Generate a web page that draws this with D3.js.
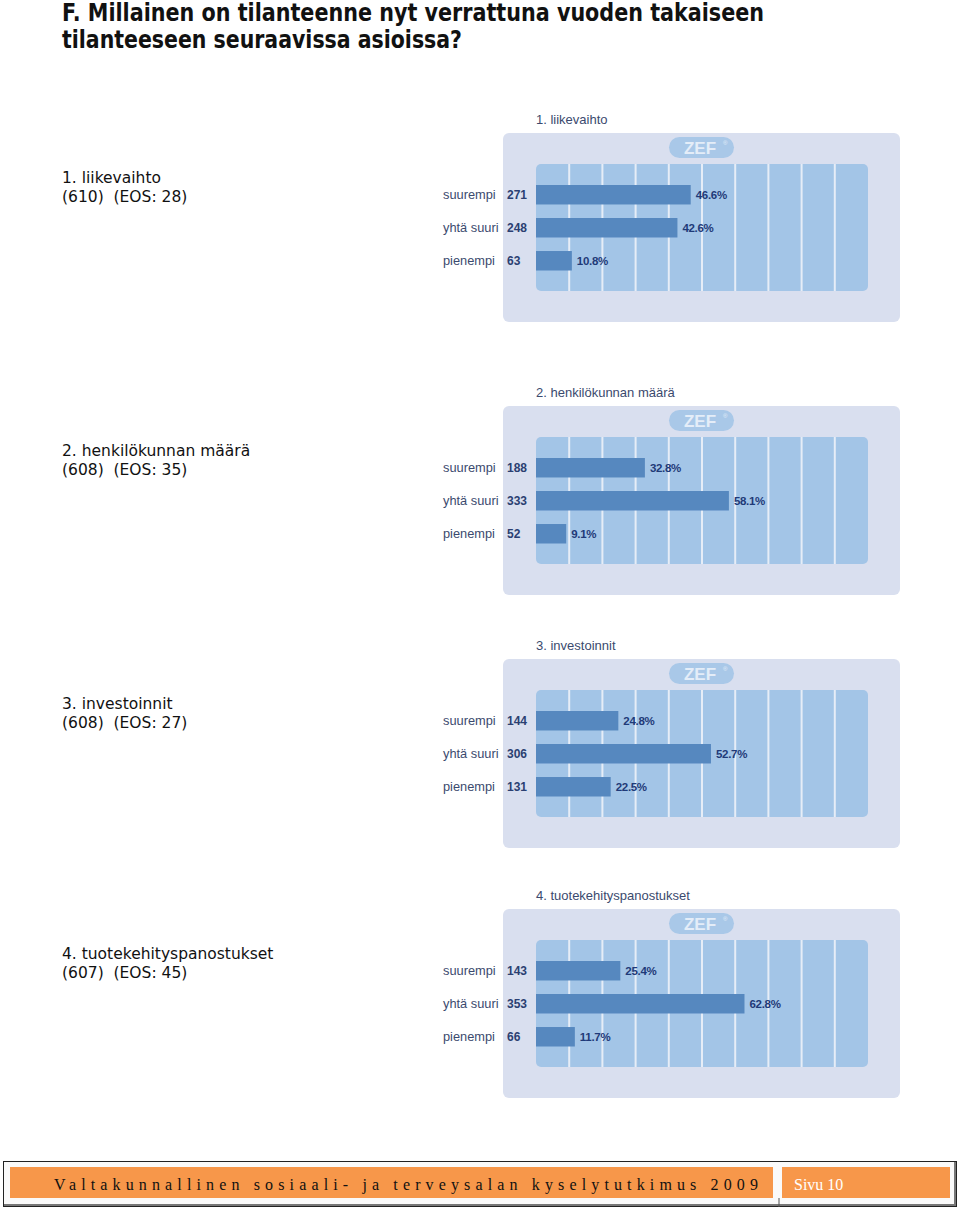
<!DOCTYPE html>
<html><head><meta charset="utf-8">
<script src="https://cdn.jsdelivr.net/npm/d3@7"></script>
<style>body{margin:0;background:#fff;}svg{display:block;}</style>
</head><body>
<script>
const titleLines = ["F. Millainen on tilanteenne nyt verrattuna vuoden takaiseen", "tilanteeseen seuraavissa asioissa?"];
const categories = ["suurempi", "yhtä suuri", "pienempi"];
const panelTitles = ["1. liikevaihto", "2. henkilökunnan määrä", "3. investoinnit", "4. tuotekehityspanostukset"];
const panelN = [610, 608, 608, 607];
const panelEOS = [28, 35, 27, 45];
const counts = [[271, 248, 63], [188, 333, 52], [144, 306, 131], [143, 353, 66]];
const percents = [[46.6, 42.6, 10.8], [32.8, 58.1, 9.1], [24.8, 52.7, 22.5], [25.4, 62.8, 11.7]];
const gridTicks = [10, 20, 30, 40, 50, 60, 70, 80, 90];
const footerText = "Valtakunnallinen sosiaali- ja terveysalan kyselytutkimus 2009";
const pageText = "Sivu 10";

const W = 960, H = 1210;
const svg = d3.select("body").append("svg").attr("width", W).attr("height", H);

// Title
titleLines.forEach((t, i) => {
  svg.append("text").attr("x", 62).attr("y", [21, 48][i])
    .attr("font-family", "'Liberation Sans Narrow','DejaVu Sans Condensed',sans-serif")
    .attr("font-weight", "bold").attr("font-size", 24).attr("fill", "#111")
    .attr("textLength", [702, 400][i]).attr("lengthAdjust", "spacingAndGlyphs")
    .text(t);
});

const panelTops = [133, 406, 659, 909];
const x = d3.scaleLinear().domain([0, 100]).range([536, 868]);
const y = d3.scaleBand().domain(categories).range([52, 137.5]).paddingInner(0.41).paddingOuter(0.0);

panelTops.forEach((T, p) => {
  // left text
  const lt = svg.append("g").attr("font-family", "'DejaVu Sans',sans-serif").attr("font-size", 15.5).attr("fill", "#111");
  lt.append("text").attr("x", 62).attr("y", T + 50).text(panelTitles[p]);
  lt.append("text").attr("x", 62).attr("y", T + 69).attr("xml:space", "preserve")
    .text(`(${panelN[p]})  (EOS: ${panelEOS[p]})`);

  const g = svg.append("g").attr("transform", `translate(0,${T})`);
  g.append("text").attr("x", 536).attr("y", -9)
    .attr("font-family", "'Liberation Sans',Arial,sans-serif").attr("font-size", 13).attr("fill", "#3b4a6e")
    .text(panelTitles[p]);
  g.append("rect").attr("x", 503).attr("y", 0).attr("width", 397).attr("height", 189).attr("rx", 6)
    .attr("fill", "#d9dfef");
  // ZEF pill
  g.append("rect").attr("x", 669).attr("y", 4).attr("width", 65).attr("height", 21).attr("rx", 10.5)
    .attr("fill", "#a9c8e8");
  g.append("text").attr("x", 700).attr("y", 21).attr("text-anchor", "middle")
    .attr("font-family", "'Liberation Sans',Arial,sans-serif").attr("font-weight", "bold").attr("font-size", 17)
    .attr("fill", "#e4edf8").text("ZEF");
  g.append("text").attr("x", 723).attr("y", 12).attr("font-family", "'Liberation Sans',Arial,sans-serif")
    .attr("font-size", 6).attr("fill", "#e4edf8").text("®");
  // inner plot
  g.append("rect").attr("x", x(0)).attr("y", 31).attr("width", x(100) - x(0)).attr("height", 127).attr("rx", 5)
    .attr("fill", "#a3c5e7");
  g.selectAll("line.grid").data(gridTicks).join("line").attr("class", "grid")
    .attr("x1", d => x(d)).attr("x2", d => x(d)).attr("y1", 31).attr("y2", 158)
    .attr("stroke", "#e6edf7").attr("stroke-width", 2);
  // bars
  const rows = categories.map((c, i) => ({c, n: counts[p][i], v: percents[p][i]}));
  g.selectAll("rect.bar").data(rows).join("rect").attr("class", "bar")
    .attr("x", x(0)).attr("y", d => y(d.c)).attr("width", d => x(d.v) - x(0)).attr("height", y.bandwidth())
    .attr("fill", "#5688bf");
  g.selectAll("text.cat").data(rows).join("text").attr("class", "cat")
    .attr("x", 443).attr("y", d => y(d.c) + y.bandwidth() / 2 + 4.5)
    .attr("font-family", "'Liberation Sans',Arial,sans-serif").attr("font-size", 12.8).attr("fill", "#3b4a6e")
    .text(d => d.c);
  g.selectAll("text.cnt").data(rows).join("text").attr("class", "cnt")
    .attr("x", 507).attr("y", d => y(d.c) + y.bandwidth() / 2 + 4.5)
    .attr("font-family", "'Liberation Sans',Arial,sans-serif").attr("font-weight", "bold").attr("font-size", 12)
    .attr("fill", "#2b3f72").text(d => d.n);
  g.selectAll("text.pct").data(rows).join("text").attr("class", "pct")
    .attr("x", d => x(d.v) + 5).attr("y", d => y(d.c) + y.bandwidth() / 2 + 4.5)
    .attr("font-family", "'Liberation Sans',Arial,sans-serif").attr("font-weight", "bold").attr("font-size", 11.5)
    .attr("fill", "#1f3a78").attr("letter-spacing", -0.3).text(d => d.v.toFixed(1) + "%");
});

// Footer
svg.append("rect").attr("x", 3.5).attr("y", 1161.5).attr("width", 953).attr("height", 45)
  .attr("fill", "#fafafa").attr("stroke", "#222").attr("stroke-width", 1);
svg.append("line").attr("x1", 4).attr("x2", 956).attr("y1", 1205).attr("y2", 1205).attr("stroke", "#777").attr("stroke-width", 2);
svg.append("line").attr("x1", 955).attr("x2", 955).attr("y1", 1162).attr("y2", 1206).attr("stroke", "#777").attr("stroke-width", 2);
svg.append("rect").attr("x", 10).attr("y", 1167).attr("width", 763).attr("height", 31).attr("fill", "#f7974a");
svg.append("rect").attr("x", 782).attr("y", 1167).attr("width", 168).attr("height", 31).attr("fill", "#f7974a");
svg.append("line").attr("x1", 779).attr("x2", 779).attr("y1", 1198).attr("y2", 1207).attr("stroke", "#555");
svg.append("text").attr("x", 54).attr("y", 1190)
  .attr("font-family", "'Liberation Serif','DejaVu Serif',serif").attr("font-size", 16).attr("fill", "#111")
  .attr("textLength", 704).attr("lengthAdjust", "spacing").text(footerText);
svg.append("text").attr("x", 794).attr("y", 1190)
  .attr("font-family", "'Liberation Serif','DejaVu Serif',serif").attr("font-size", 16).attr("fill", "#fff")
  .text(pageText);
</script>
</body></html>
